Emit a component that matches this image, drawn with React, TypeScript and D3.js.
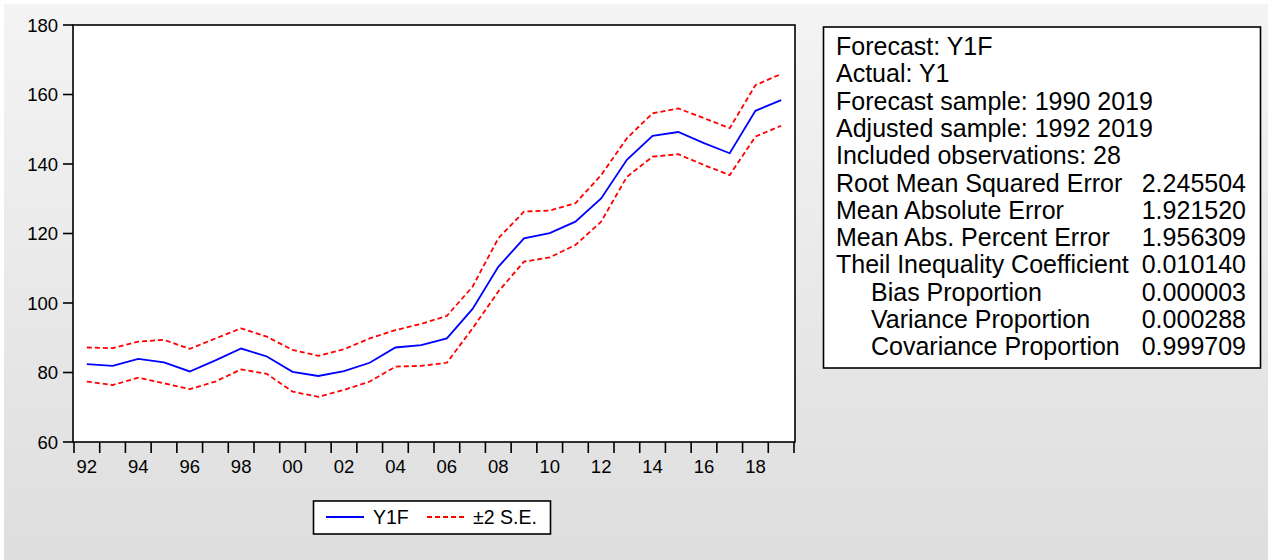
import React from "react";
import * as d3 from "d3";

const years = d3.range(1992, 2020);
const y1f = [82.4, 81.9, 83.9, 82.9, 80.3, 83.5, 86.9, 84.6, 80.2, 79.0, 80.4, 82.8, 87.2, 87.9, 89.8, 98.3, 110.4, 118.6, 120.1, 123.4, 130.1, 141.2, 148.1, 149.2, 146.0, 143.1, 155.3, 158.4];
const upper = [87.2, 87.0, 88.9, 89.4, 86.8, 89.8, 92.7, 90.3, 86.5, 84.8, 86.7, 89.8, 92.2, 94.0, 96.3, 104.7, 118.6, 126.3, 126.6, 128.7, 136.8, 147.4, 154.6, 156.0, 153.2, 150.3, 162.7, 165.9];
const lower = [77.4, 76.4, 78.5, 76.9, 75.2, 77.4, 80.9, 79.6, 74.5, 73.0, 75.0, 77.4, 81.7, 81.9, 82.8, 92.7, 103.3, 111.9, 113.1, 116.7, 123.4, 136.3, 142.1, 142.8, 139.7, 136.8, 147.9, 151.0];
const yTicks = [60, 80, 100, 120, 140, 160, 180];
const xLabelYears = d3.range(1992, 2020, 2);

const statLabels = [
  "Forecast: Y1F",
  "Actual: Y1",
  "Forecast sample: 1990 2019",
  "Adjusted sample: 1992 2019",
  "Included observations: 28",
  "Root Mean Squared Error",
  "Mean Absolute Error",
  "Mean Abs. Percent Error",
  "Theil Inequality Coefficient",
  "Bias Proportion",
  "Variance Proportion",
  "Covariance Proportion",
];
const statValues = ["", "", "", "", "", "2.245504", "1.921520", "1.956309", "0.010140", "0.000003", "0.000288", "0.999709"];
const statIndent = [false, false, false, false, false, false, false, false, false, true, true, true];

const FONT = "Arial, 'Liberation Sans', sans-serif";

export default function App() {
  const W = 1268, H = 560;
  const left = 73, right = 795, top = 25, bottom = 442;
  const x = d3.scaleLinear().domain([1992, 2020]).range([74, 794]);
  const y = d3.scaleLinear().domain([60, 180]).range([bottom, top]);
  const line = d3.line<number>().x((_, i) => x(years[i] + 0.5)).y((d) => y(d));
  const xTickYears = d3.range(1992, 2021);

  return (
    <svg width={W} height={H} style={{ position: "absolute", left: 0, top: 0 }} fontFamily={FONT}>
      <defs>
        <linearGradient id="bg" x1="0" y1="0" x2="0" y2="1">
          <stop offset="0" stopColor="#f4f4f4" />
          <stop offset="1" stopColor="#dedede" />
        </linearGradient>
      </defs>
      <rect x={0} y={0} width={W} height={H} fill="#ffffff" />
      <rect x={4} y={4} width={W - 4} height={H - 4} fill="url(#bg)" />

      {/* plot area */}
      <rect x={left} y={top} width={right - left} height={bottom - top} fill="#ffffff" stroke="#000" strokeWidth={1.6} />

      {/* y ticks */}
      {yTicks.map((t) => (
        <g key={t}>
          <line x1={63} x2={left} y1={y(t)} y2={y(t)} stroke="#000" strokeWidth={1.6} />
          <text x={58} y={y(t)} dy="0.36em" textAnchor="end" fontSize={18.5} fill="#000">{t}</text>
        </g>
      ))}

      {/* x ticks */}
      {xTickYears.map((yr) => (
        <line key={yr} x1={x(yr)} x2={x(yr)} y1={bottom} y2={bottom + 11} stroke="#000" strokeWidth={1.6} />
      ))}
      {xLabelYears.map((yr) => (
        <text key={yr} x={x(yr + 0.5)} y={473} textAnchor="middle" fontSize={18.5} fill="#000">
          {String(yr % 100).padStart(2, "0")}
        </text>
      ))}

      {/* series */}
      <path d={line(upper) || ""} fill="none" stroke="#ff0000" strokeWidth={1.8} strokeDasharray="5,3" />
      <path d={line(lower) || ""} fill="none" stroke="#ff0000" strokeWidth={1.8} strokeDasharray="5,3" />
      <path d={line(y1f) || ""} fill="none" stroke="#0000ff" strokeWidth={1.8} />

      {/* legend */}
      <rect x={313.5} y={501} width={237} height={33} fill="#ffffff" stroke="#000" strokeWidth={1.6} />
      <line x1={326} x2={364} y1={517} y2={517} stroke="#0000ff" strokeWidth={1.8} />
      <text x={373} y={524} fontSize={19.5} fill="#000">Y1F</text>
      <line x1={427} x2={466} y1={517} y2={517} stroke="#ff0000" strokeWidth={1.8} strokeDasharray="5,3" />
      <text x={473} y={524} fontSize={19.5} fill="#000">±2 S.E.</text>

      {/* stats box */}
      <rect x={823.5} y={27} width={437} height={341} fill="#ffffff" stroke="#000" strokeWidth={1.6} />
      {statLabels.map((s, i) => (
        <g key={s}>
          <text x={statIndent[i] ? 871 : 836} y={55 + i * 27.3} fontSize={25} fill="#000">{s}</text>
          {statValues[i] && (
            <text x={1246} y={55 + i * 27.3} fontSize={25} textAnchor="end" fill="#000">{statValues[i]}</text>
          )}
        </g>
      ))}
    </svg>
  );
}
